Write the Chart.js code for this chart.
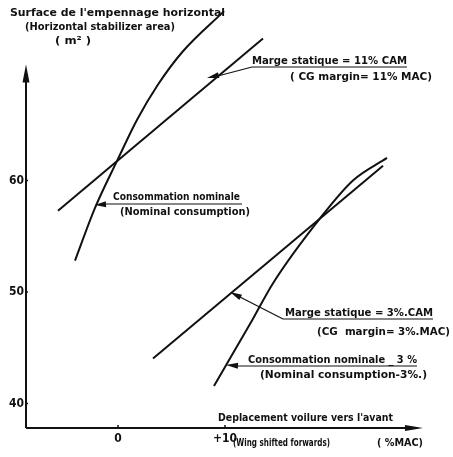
<!DOCTYPE html>
<html>
<head>
<meta charset="utf-8">
<script src="https://cdn.jsdelivr.net/npm/chart.js@4/dist/chart.umd.min.js"></script>
<style>
  html, body { margin: 0; padding: 0; background: #fff; }
  #wrap { width: 453px; height: 457px; }
</style>
</head>
<body>
<div id="wrap"><canvas id="chart" width="453" height="457"></canvas></div>
<script>
// wing shift (%MAC) vs horizontal stabilizer area (m2)
const nominalX = [-4.02, -2.15, -0.09, 1.78, 3.74, 6.07, 9.91];
const nominalY = [52.81, 57.54, 61.75, 65.44, 68.6, 71.58, 75.18];

const margin11X = [-5.61, 13.55];
const margin11Y = [57.28, 72.72];

const margin3X = [3.27, 24.77];
const margin3Y = [44.04, 61.32];

const nominalM3X = [8.97, 12.43, 14.49, 18.88, 21.96, 25.14];
const nominalM3Y = [41.58, 47.28, 50.79, 56.6, 60.0, 62.02];

const xTicks = [0, 10];
const yTicks = [40, 50, 60];

const INK = "#111";
const FAMILY = "'DejaVu Sans Condensed', 'DejaVu Sans', sans-serif";

function pts(xs, ys) {
  return xs.map((x, i) => ({ x, y: ys[i] }));
}

function line(data, curved) {
  return {
    data,
    borderColor: INK,
    borderWidth: 2,
    pointRadius: 0,
    fill: false,
    tension: curved ? 0.4 : 0,
    cubicInterpolationMode: curved ? "monotone" : "default",
  };
}

// text squeezed to the width it has on the drawing
function label(ctx, text, x, y, w, size) {
  ctx.save();
  ctx.font = "bold " + (size || 11) + "px " + FAMILY;
  ctx.textBaseline = "middle";
  ctx.textAlign = "left";
  const m = ctx.measureText(text).width;
  ctx.translate(x, y);
  if (w) ctx.scale(w / m, 1);
  ctx.fillText(text, 0, 0);
  ctx.restore();
}

function seg(ctx, x1, y1, x2, y2, lw) {
  ctx.lineWidth = lw || 1.2;
  ctx.beginPath();
  ctx.moveTo(x1, y1);
  ctx.lineTo(x2, y2);
  ctx.stroke();
}

function arrowHead(ctx, fromX, fromY, tipX, tipY, len, half) {
  const a = Math.atan2(tipY - fromY, tipX - fromX);
  ctx.beginPath();
  ctx.moveTo(tipX, tipY);
  ctx.lineTo(tipX - len * Math.cos(a) + half * Math.sin(a), tipY - len * Math.sin(a) - half * Math.cos(a));
  ctx.lineTo(tipX - len * Math.cos(a) - half * Math.sin(a), tipY - len * Math.sin(a) + half * Math.cos(a));
  ctx.closePath();
  ctx.fill();
}

const drawing = {
  id: "drawing",
  afterDatasetsDraw(chart) {
    const ctx = chart.ctx;
    const xs = chart.scales.x, ys = chart.scales.y;
    const left = chart.chartArea.left, bottom = chart.chartArea.bottom;
    ctx.save();
    ctx.strokeStyle = INK;
    ctx.fillStyle = INK;

    // axes with arrows
    const yTop = ys.getPixelForValue(70.4);
    seg(ctx, left, bottom, left, yTop + 10, 2);
    arrowHead(ctx, left, bottom, left, yTop, 18, 3.5);
    const xEnd = xs.getPixelForValue(28.5);
    seg(ctx, left, bottom, xEnd - 10, bottom, 2);
    arrowHead(ctx, left, bottom, xEnd, bottom, 18, 3);
    for (const v of xTicks) {
      const p = xs.getPixelForValue(v);
      seg(ctx, p, bottom, p, bottom - 3, 1.5);
    }
    for (const v of yTicks) {
      const p = ys.getPixelForValue(v);
      seg(ctx, left, p, left + 2, p, 1.5);
    }

    // title
    label(ctx, "Surface de l'empennage horizontal", 10, 13, 215);
    label(ctx, "(Horizontal stabilizer area)", 25, 27, 150);
    label(ctx, "( m\u00B2 )", 55, 41, 36);

    // 11% static margin
    label(ctx, "Marge statique = 11% CAM", 252, 61, 155);
    seg(ctx, 252, 67, 407, 67);
    seg(ctx, 252, 67, 214, 77);
    arrowHead(ctx, 252, 67, 207, 78, 12, 3);
    label(ctx, "( CG margin= 11% MAC)", 290, 77, 142);

    // nominal consumption
    label(ctx, "Consommation nominale", 113, 197, 127);
    seg(ctx, 100, 204, 242, 204);
    arrowHead(ctx, 112, 204, 95, 205, 11, 3);
    label(ctx, "(Nominal consumption)", 120, 212, 130);

    // 3% static margin
    label(ctx, "Marge statique = 3%.CAM", 285, 313, 148);
    seg(ctx, 283, 319, 433, 319);
    seg(ctx, 283, 319, 236, 295);
    arrowHead(ctx, 283, 319, 230, 292, 12, 3);
    label(ctx, "(CG  margin= 3%.MAC)", 317, 332, 133);

    // nominal consumption -3%
    label(ctx, "Consommation nominale _ 3 %", 248, 360, 169);
    seg(ctx, 232, 366, 417, 366);
    arrowHead(ctx, 245, 366, 226, 365, 12, 3);
    label(ctx, "(Nominal consumption-3%.)", 260, 375, 167);

    // x axis caption
    label(ctx, "Deplacement voilure vers l'avant", 218, 418, 175);
    label(ctx, "(Wing shifted forwards)", 233, 443, 97, 10);
    label(ctx, "( %MAC)", 377, 443, 46);

    ctx.restore();
  }
};

new Chart(document.getElementById("chart"), {
  type: "line",
  data: {
    datasets: [
      line(pts(nominalX, nominalY), true),
      line(pts(margin11X, margin11Y), false),
      line(pts(margin3X, margin3Y), false),
      line(pts(nominalM3X, nominalM3Y), true),
    ]
  },
  options: {
    responsive: false,
    animation: false,
    events: [],
    layout: { padding: { top: 0, right: 23, left: 0, bottom: 0 } },
    plugins: { legend: { display: false }, tooltip: { enabled: false } },
    scales: {
      x: {
        type: "linear",
        min: -8.6,
        max: 29.16,
        grid: { display: false, drawTicks: false },
        border: { display: false },
        afterBuildTicks: (s) => { s.ticks = xTicks.map(v => ({ value: v })); },
        afterFit: (s) => { s.height = 29; },
        ticks: {
          autoSkip: false,
          maxRotation: 0,
          padding: 4,
          color: INK,
          font: { family: FAMILY, size: 12, weight: "bold" },
          callback: (v) => (v > 0 ? "+" + v : String(v)),
        }
      },
      y: {
        type: "linear",
        min: 37.81,
        max: 75.35,
        grid: { display: false, drawTicks: false },
        border: { display: false },
        afterBuildTicks: (s) => { s.ticks = yTicks.map(v => ({ value: v })); },
        afterFit: (s) => { s.width = 26; },
        ticks: {
          autoSkip: false,
          padding: 2,
          color: INK,
          font: { family: FAMILY, size: 12, weight: "bold" },
        }
      }
    }
  },
  plugins: [drawing]
});
</script>
</body>
</html>
